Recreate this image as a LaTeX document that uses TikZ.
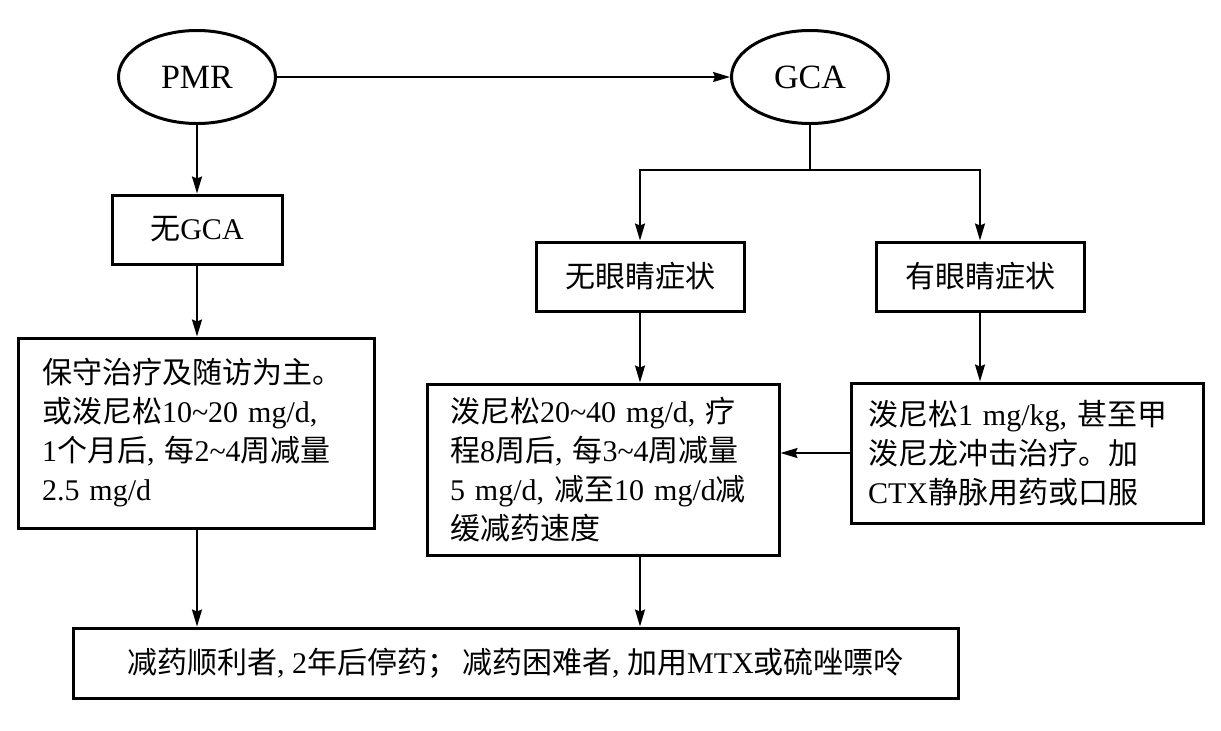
\documentclass[tikz,border=0pt]{standalone}
\usepackage{fontspec}
\setmainfont{Liberation Serif}
\newfontfamily\cjk{Noto Sans CJK SC}
\usetikzlibrary{arrows.meta,shapes.geometric}
\newcommand{\zh}[1]{{\cjk #1}}
\newcommand{\tld}{\textasciitilde}

\begin{document}
\begin{tikzpicture}[
            x=0.5pt, y=-0.5pt,
            oval/.style={ellipse, draw, line width=1.5pt, minimum width=78.5pt,
            minimum height=46.5pt, inner sep=0pt, font=\fontsize{17}{20}\selectfont},
            box/.style={rectangle, draw, line width=1.5pt, minimum height=34.5pt,
            inner sep=0pt, font=\fontsize{15}{19.5}\selectfont},
            textbox/.style={rectangle, draw, line width=1.5pt, align=left,
            inner ysep=0pt, font=\fontsize{15}{19.5}\selectfont},
            line/.style={line width=0.9pt},
            pile/.style={line width=0.9pt, -{Stealth[length=8.5pt,width=5pt,inset=1pt]}}
            ]
            \useasboundingbox (0,0) rectangle (1221,730);

            % diagnosis
            \node[oval] (pmr) at (197,77) {PMR};
            \node[oval] (gca) at (810,77) {GCA};

            \node[box, minimum width=85pt] (nogca) at (197,229.5) {\zh{无}GCA};
            \node[box, minimum width=104pt] (noeye) at (640,276.5) {\zh{无眼睛症状}};
            \node[box, minimum width=104pt] (eye) at (980,276.5) {\zh{有眼睛症状}};

            % treatment
            \node[textbox, text width=154pt, inner xsep=12pt, minimum height=95pt]
                (conserv) at (196,433)
                {\zh{保守治疗及随访为主。}\\
                 \zh{或泼尼松}10\tld20 mg/d,\\
                 1\zh{个月后}, \zh{每}2\tld4\zh{周减量}\\
                 2.5 mg/d};
            \node[textbox, text width=153pt, inner xsep=11.5pt, minimum height=85.5pt]
                (lowdose) at (603,469.5)
                {\zh{泼尼松}20\tld40 mg/d, \zh{疗}\\
                 \zh{程}8\zh{周后}, \zh{每}3\tld4\zh{周减量}\\
                 5 mg/d, \zh{减至}10 mg/d\zh{减}\\
                 \zh{缓减药速度}};
            \node[textbox, text width=159pt, inner xsep=8.5pt, minimum height=70pt]
                (highdose) at (1027,453)
                {\zh{泼尼松}1 mg/kg, \zh{甚至甲}\\
                 \zh{泼尼龙冲击治疗。加}\\
                 CTX\zh{静脉用药或口服}};

            \node[box, minimum width=442.5pt, minimum height=35pt] (taper) at (515.5,663)
                {\zh{减药顺利者}, 2\zh{年后停药；\,减药困难者}, \zh{加用}MTX\zh{或硫唑嘌呤}};

            % connectors
            \draw[pile] (pmr.east) -- (gca.west);
            \draw[pile] (pmr.south) -- (nogca.north);
            \draw[pile] (nogca.south) -- (nogca.south |- conserv.north);

            \coordinate (split) at (810,170);
            \draw[line] (gca.south) -- (split);
            \draw[pile] (split) -| (noeye.north);
            \draw[pile] (split) -| (eye.north);

            \draw[pile] (noeye.south) -- (noeye.south |- lowdose.north);
            \draw[pile] (eye.south) -- (eye.south |- highdose.north);
            \draw[pile] (highdose.west) -- (highdose.west -| lowdose.east);

            \draw[pile] (conserv.south -| nogca.south) -- (nogca.south |- taper.north);
            \draw[pile] (lowdose.south -| noeye.south) -- (noeye.south |- taper.north);

        \end{tikzpicture}
\end{document}
